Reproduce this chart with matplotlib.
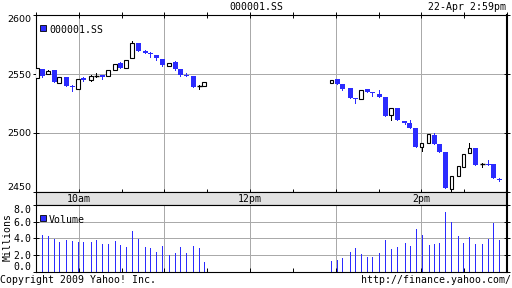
#! /usr/bin/env python3
import numpy as np
import matplotlib
matplotlib.use('Agg')
from matplotlib import pyplot as plt

BLUE = '#2b2bff'
GRID = '#aaaaaa'
MONO = 'DejaVu Sans Mono'
FS = 7.1
PX = 0.72  # one pixel at 100 dpi

# minutes after 9:30 (one candle / volume bar each)
times = [0.9, 4.4, 8.6, 12.8, 16.3, 21.2, 25.4, 29.6, 33.2, 38.8,
         42.3, 46.5, 50.7, 55.6, 59.1, 63.3, 67.5, 71.7, 76.6, 80.1,
         84.3, 88.5, 93.4, 97.6, 101.1, 105.4, 110.3, 114.5, 118.0,
         207.0, 211.2, 214.7, 220.3, 223.8, 228.0, 232.2, 235.7, 240.6, 244.8,
         249.0, 253.2, 258.2, 261.7, 265.9, 270.1, 275.0, 279.2, 282.7, 286.9,
         291.1, 296.0, 299.5, 303.7, 307.9, 312.8, 317.0, 320.5, 324.7]
opens = [2546.9, 2554.1, 2549.7, 2553.0, 2542.4, 2547.4, 2539.6, 2537.4, 2546.3, 2545.2,
         2548.4, 2548.8, 2548.0, 2553.0, 2559.1, 2555.3, 2563.6, 2576.5, 2569.2, 2568.1,
         2566.4, 2563.1, 2557.2, 2560.0, 2553.9, 2548.8, 2548.0, 2540.0, 2539.9,
         2542.7, 2545.7, 2541.3, 2537.9, 2529.6, 2528.5, 2537.1, 2534.6, 2532.9, 2530.1,
         2515.6, 2521.2, 2510.3, 2508.6, 2504.4, 2487.9, 2491.6, 2498.6, 2490.8, 2483.8,
         2452.5, 2463.4, 2470.9, 2483.2, 2486.9, 2473.9, 2473.7, 2473.4, 2460.9]
highs = [2555.3, 2554.1, 2553.6, 2553.0, 2547.2, 2547.4, 2540.7, 2545.5, 2547.2, 2548.8,
         2550.5, 2548.8, 2553.0, 2558.6, 2560.3, 2562.2, 2578.1, 2576.5, 2570.6, 2568.9,
         2566.4, 2563.1, 2559.7, 2561.4, 2553.9, 2550.5, 2548.0, 2540.5, 2543.0,
         2544.6, 2545.7, 2541.3, 2537.9, 2529.6, 2536.3, 2537.1, 2534.6, 2536.3, 2530.1,
         2521.2, 2521.2, 2510.3, 2511.1, 2504.4, 2491.6, 2499.4, 2499.7, 2490.8, 2483.8,
         2463.4, 2471.8, 2482.4, 2491.3, 2486.9, 2474.3, 2476.8, 2473.4, 2461.7]
lows = [2546.5, 2547.7, 2549.7, 2543.0, 2542.4, 2540.2, 2536.0, 2537.4, 2544.4, 2544.4,
        2547.2, 2546.1, 2548.0, 2553.0, 2554.7, 2555.3, 2563.6, 2569.2, 2567.5, 2564.2,
        2562.2, 2556.6, 2557.2, 2553.3, 2548.0, 2548.0, 2539.0, 2537.1, 2539.9,
        2542.7, 2541.3, 2536.8, 2529.3, 2525.1, 2528.5, 2534.6, 2531.2, 2530.4, 2514.7,
        2511.4, 2510.6, 2507.5, 2503.9, 2487.9, 2484.6, 2491.6, 2490.8, 2483.8, 2453.1,
        2450.8, 2463.4, 2470.9, 2483.2, 2473.2, 2471.2, 2472.6, 2461.5, 2459.2]
closes = [2554.7, 2548.6, 2552.4, 2543.0, 2547.2, 2540.2, 2538.8, 2545.5, 2545.2, 2548.0,
          2548.4, 2547.7, 2553.0, 2558.6, 2554.7, 2562.2, 2576.5, 2569.2, 2567.5, 2567.3,
          2563.3, 2557.4, 2559.7, 2554.1, 2548.8, 2548.0, 2539.0, 2540.0, 2543.0,
          2544.6, 2541.3, 2537.7, 2529.3, 2528.5, 2536.3, 2534.6, 2533.8, 2530.4, 2514.7,
          2521.2, 2510.6, 2508.6, 2503.9, 2487.9, 2491.6, 2499.4, 2490.8, 2483.8, 2453.1,
          2463.4, 2471.8, 2482.4, 2486.9, 2473.2, 2473.9, 2472.6, 2461.5, 2460.0]
# millions of shares
volumes = [0.0, 4.44, 4.32, 3.96, 3.60, 3.84, 3.72, 3.60, 3.60, 3.60,
           3.84, 3.35, 3.35, 3.72, 3.23, 2.99, 4.93, 3.96, 2.99, 2.87,
           2.38, 3.11, 2.02, 2.26, 2.99, 2.26, 3.11, 2.87, 1.17,
           1.29, 1.41, 1.66, 2.38, 2.87, 2.14, 1.78, 1.78, 2.26, 3.84,
           2.75, 2.99, 3.47, 3.11, 5.17, 4.44, 3.23, 3.35, 3.47, 7.11,
           5.90, 4.32, 3.47, 4.20, 3.35, 3.35, 3.96, 5.78, 3.84]

hour_ticks = [30, 90, 150, 210, 270]
half_ticks = [0, 30, 60, 90, 120, 150, 180, 210, 240, 270, 300, 330]
time_labels = {30: '10am', 150: '12pm', 270: '2pm'}

fig = plt.figure(figsize=(5.12, 2.88), dpi=100)
L, R = 36 / 512, 507 / 512

def frame(ax):
    for s in ax.spines.values():
        s.set_color('black')
        s.set_linewidth(0.8)
    ax.spines['right'].set_linewidth(1.5)
    ax.set_xlim(0, 330)
    ax.set_xticks(half_ticks)
    ax.set_xticklabels([])
    for h in hour_ticks:
        ax.axvline(h, color=GRID, lw=PX, zorder=0, antialiased=False)

# price panel
ax = fig.add_axes([L, 1 - 192 / 288, R - L, 177 / 288])
frame(ax)
ax.set_ylim(2450, 2600)
ax.set_yticks([2450, 2500, 2550, 2600])
for p in [2500, 2550]:
    ax.axhline(p, color=GRID, lw=PX, zorder=0, antialiased=False)
ax.tick_params(axis='x', direction='inout', length=5, width=0.7, top=True, bottom=True)
ax.tick_params(axis='y', direction='inout', length=5, width=0.7, right=True, pad=1,
               labelsize=6.8)
labels = ax.get_yticklabels()
labels[0].set_va('bottom')
labels[-1].set_va('top')

t = np.array(times)
o = np.array(opens)
c = np.array(closes)
up = c > o
down = c < o
flat = c == o
wick_col = np.where(down, BLUE, 'black')
ax.vlines(t, lows, highs, colors=wick_col, lw=PX, zorder=2, antialiased=False)
ax.bar(t[down], (o - c)[down], bottom=c[down], width=3.3, color=BLUE,
       linewidth=0, zorder=3)
ax.bar(t[up], (c - o)[up], bottom=o[up], width=2.7, facecolor='white',
       edgecolor='black', linewidth=0.8, zorder=3)
ax.hlines(c[flat], t[flat] - 1.6, t[flat] + 1.6, colors='black', lw=1.0, zorder=3)

ax.plot([0.0149], [0.925], 's', transform=ax.transAxes, ms=4.3, mfc=BLUE,
        mec='black', mew=0.6, clip_on=False)
ax.text(0.0276, 0.918, '000001.SS', transform=ax.transAxes, va='center',
        family=MONO, fontsize=FS)

# time band
band = fig.add_axes([L, 1 - 205 / 288, R - L, 13 / 288], facecolor='#e2e2e2')
band.set_xlim(0, 330)
band.set_ylim(0, 1)
band.set_xticks([])
band.set_yticks([])
for s in band.spines.values():
    s.set_linewidth(0.8)
band.spines['right'].set_linewidth(1.5)
for m, txt in time_labels.items():
    band.text(m, 0.45, txt, ha='center', va='center', family=MONO, fontsize=FS)

# volume panel
vax = fig.add_axes([L, 1 - 271.5 / 288, R - L, 66.5 / 288])
frame(vax)
vax.set_ylim(0, 8)
vax.set_yticks([0, 2, 4, 6, 8])
vax.set_yticklabels(['0.0', '2.0', '4.0', '6.0', '8.0'], family=MONO)
for v in [2, 4, 6]:
    vax.axhline(v, color=GRID, lw=PX, zorder=0, antialiased=False)
vax.tick_params(axis='x', direction='in', length=3, width=0.7, bottom=True)
vax.tick_params(axis='y', direction='inout', length=5, width=0.7, right=True, pad=1,
                labelsize=FS)
vl = vax.get_yticklabels()
vl[0].set_va('bottom')
vl[-1].set_va('top')
vax.vlines(times, 0, volumes, colors=BLUE, lw=PX, zorder=2, antialiased=False)
vax.plot([0.0149], [0.80], 's', transform=vax.transAxes, ms=4.3, mfc=BLUE,
         mec='black', mew=0.6, clip_on=False)
vax.text(0.0276, 0.78, 'Volume', transform=vax.transAxes, va='center',
         family=MONO, fontsize=FS)

fig.text(7.5 / 512, 1 - 237 / 288, 'Millions', rotation=90, ha='center', va='center',
         family=MONO, fontsize=FS)
fig.text(256 / 512, 1 - 7 / 288, '000001.SS', ha='center', va='center',
         family=MONO, fontsize=FS)
fig.text(506 / 512, 1 - 7 / 288, '22-Apr 2:59pm', ha='right', va='center',
         family=MONO, fontsize=FS)
fig.text(0, 1 - 280 / 288, 'Copyright 2009 Yahoo! Inc.', ha='left', va='center',
         family=MONO, fontsize=FS)
fig.text(511 / 512, 1 - 280 / 288, 'http://finance.yahoo.com/', ha='right', va='center',
         family=MONO, fontsize=FS)

fig.savefig('out.png', dpi=100)
